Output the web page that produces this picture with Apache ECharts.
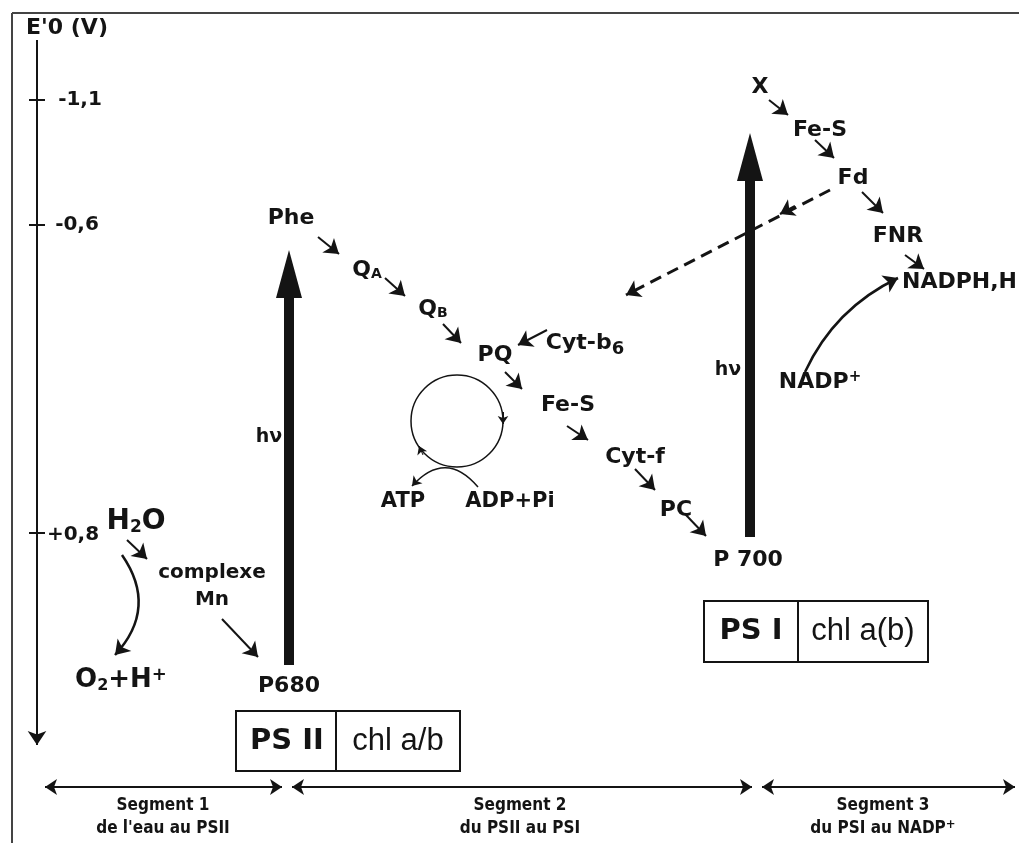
<!DOCTYPE html>
<html>
<head>
<meta charset="utf-8">
<script src="https://cdn.jsdelivr.net/npm/echarts@6/dist/echarts.min.js"></script>
<style>html,body{margin:0;padding:0;background:#fff}</style>
</head>
<body>
<div id="zscheme" style="width:1019px;height:843px"></div>
<script>
// schéma en Z : positions en unités du schéma (axe x 0..1019, axe y 0..843 vers le bas)
var labelText = ["E'0 (V)", '-1,1', '-0,6', '+0,8', 'H{m|2}O', 'complexe', 'Mn', 'O{m|2}+H{sup|+}',
  'P680', 'hν', 'Phe', 'Q{m|A}', 'Q{m|B}', 'PQ', 'Cyt-b{sub|6}', 'Fe-S', 'Cyt-f', 'PC', 'P 700', 'hν',
  'X', 'Fe-S', 'Fd', 'FNR', 'NADPH,H', 'NADP{sup|+}', 'ATP', 'ADP+Pi',
  'PS II', 'chl a/b', 'PS I', 'chl a(b)',
  'Segment 1', "de l'eau au PSII", 'Segment 2', 'du PSII au PSI', 'Segment 3', 'du PSI au NADP{ssup|+}']
var labelX = [67, 80, 77, 73, 136, 212, 212, 121,
  289, 269, 291, 367, 433, 495, 585, 568, 635, 676, 748, 728,
  760, 820, 853, 898, 960, 820, 403, 510,
  287, 398, 751, 863,
  163, 163, 520, 520, 883, 883]
var labelY = [28, 100, 225, 535, 522, 573, 600, 680,
  686, 437, 218, 270, 309, 355, 343, 405, 457, 510, 560, 370,
  87, 130, 178, 236, 282, 382, 502, 502,
  741, 741, 631, 631,
  806, 829, 806, 829, 806, 829]
var labelSize = [22, 20, 20, 20, 28, 20, 20, 26,
  22, 19, 22, 22, 22, 22, 22, 22, 22, 22, 22, 19,
  22, 22, 22, 22, 22, 22, 21, 21,
  29, 31, 29, 31,
  17, 17, 17, 17, 17, 17]
var labelKind = ['b', 'b', 'b', 'b', 'b', 'b', 'b', 'b',
  'b', 'b', 'b', 'b', 'b', 'b', 'b', 'b', 'b', 'b', 'b', 'b',
  'b', 'b', 'b', 'b', 'b', 'b', 'b', 'b',
  'b', 'n', 'b', 'n',
  's', 's', 's', 's', 's', 's']

// graduations de l'axe E'0
var tickY = [100, 225, 533]

// flèches courtes de la chaîne de transfert (départ -> arrivée)
var stepFrom = [[127, 540], [222, 619], [318, 237], [385, 278], [443, 324], [547, 330], [505, 372],
  [567, 426], [635, 469], [686, 515], [769, 100], [815, 140], [862, 192], [905, 255]]
var stepTo = [[147, 559], [258, 657], [339, 254], [405, 296], [461, 343], [518, 345], [522, 389],
  [588, 440], [655, 490], [706, 536], [788, 115], [834, 158], [883, 213], [924, 269]]

// flèches courbes : départ, arrivée, courbure
var curveFrom = [[122, 555], [805, 372], [478, 487]]
var curveTo = [[115, 655], [898, 278], [412, 486]]
var curveBend = [0.4, 0.18, -0.57]

// retour cyclique (pointillés) Fd -> Cyt-b6
var cyclicFrom = [830, 190]
var cyclicTo = [626, 295]

// flèches épaisses hν : x, base, pointe
var lightX = [289, 750]
var lightBase = [665, 537]
var lightTip = [250, 133]

// boîtes photosystèmes : gauche, séparation, droite, haut, bas
var boxLeft = [236, 704]
var boxMid = [336, 798]
var boxRight = [460, 928]
var boxTop = [711, 601]
var boxBottom = [771, 662]

// cycle ATP
var cycleCenter = [457, 421]
var cycleRadius = 46

// segments en bas
var segStart = [45, 292, 762]
var segEnd = [282, 752, 1015]
var segY = 787

var ink = '#141414'
var fonts = {
  b: {fontFamily: 'DejaVu Sans', fontWeight: 'bold'},
  n: {fontFamily: 'Liberation Sans', fontWeight: 'normal'},
  s: {fontFamily: "'DejaVu Sans Condensed', 'Liberation Sans', sans-serif", fontWeight: 'bold'}
}

var chart = echarts.init(document.getElementById('zscheme'))

var labelData = labelText.map(function (t, i) {
  var f = fonts[labelKind[i]]
  var item = {
    value: [labelX[i], labelY[i]],
    label: {
      formatter: t,
      fontSize: labelSize[i],
      fontFamily: f.fontFamily,
      fontWeight: f.fontWeight,
      rich: {
        m: {fontSize: Math.round(labelSize[i] * 0.62), fontFamily: f.fontFamily, fontWeight: f.fontWeight, color: ink, verticalAlign: 'bottom'},
        sub: {fontSize: Math.round(labelSize[i] * 0.8), fontFamily: f.fontFamily, fontWeight: f.fontWeight, color: ink, padding: [12, 0, 0, 0]},
        sup: {fontSize: Math.round(labelSize[i] * 0.7), fontFamily: f.fontFamily, fontWeight: f.fontWeight, color: ink, padding: [0, 0, 10, 0]},
        ssup: {fontSize: 13, fontFamily: f.fontFamily, fontWeight: f.fontWeight, color: ink, padding: [0, 0, 8, 0]}
      }
    }
  }
  if (t === 'NADPH,H') {
    item.label.align = 'left'
    item.value = [902, labelY[i]]
  }
  return item
})

var thinLines = []
thinLines.push({coords: [[12, 843], [12, 13]], lineStyle: {width: 2, color: '#444'}, symbol: ['none', 'none']})
thinLines.push({coords: [[12, 13], [1019, 13]], lineStyle: {width: 2, color: '#444'}, symbol: ['none', 'none']})
thinLines.push({coords: [[37, 40], [37, 745]], lineStyle: {width: 2}, symbol: ['none', 'arrow'], symbolSize: [0, 14]})
tickY.forEach(function (y) {
  thinLines.push({coords: [[29, y], [45, y]], lineStyle: {width: 2}, symbol: ['none', 'none']})
})
stepFrom.forEach(function (p, i) {
  thinLines.push({coords: [p, stepTo[i]], lineStyle: {width: 2}, symbol: ['none', 'arrow'], symbolSize: [0, 14]})
})
curveFrom.forEach(function (p, i) {
  thinLines.push({coords: [p, curveTo[i]], lineStyle: {width: i === 2 ? 1.5 : 2.5, curveness: curveBend[i]}, symbol: ['none', 'arrow'], symbolSize: [0, i === 2 ? 9 : 14]})
})
thinLines.push({coords: [cyclicFrom, cyclicTo], lineStyle: {width: 3, type: [12, 7]}, symbol: ['none', 'arrow'], symbolSize: [0, 14]})
thinLines.push({coords: [[795, 206], [780, 214]], lineStyle: {width: 2}, symbol: ['none', 'arrow'], symbolSize: [0, 14]})
segStart.forEach(function (x, i) {
  thinLines.push({coords: [[x, segY], [segEnd[i], segY]], lineStyle: {width: 2}, symbol: ['arrow', 'arrow'], symbolSize: [12, 12]})
})
// petites pointes sur le cycle
thinLines.push({coords: [[503, 412], [503, 424]], lineStyle: {width: 1}, symbol: ['none', 'arrow'], symbolSize: [0, 8]})
thinLines.push({coords: [[423, 455], [419, 446]], lineStyle: {width: 1}, symbol: ['none', 'arrow'], symbolSize: [0, 8]})

var option = {
  animation: false,
  backgroundColor: '#fff',
  grid: {left: 0, right: 0, top: 0, bottom: 0},
  xAxis: {type: 'value', min: 0, max: 1019, show: false},
  yAxis: {type: 'value', min: 0, max: 843, inverse: true, show: false},
  series: [
    {
      type: 'custom',
      coordinateSystem: 'cartesian2d',
      data: boxLeft.map(function (x, i) { return [x, boxMid[i], boxRight[i], boxTop[i], boxBottom[i]] }),
      renderItem: function (params, api) {
        var a = api.coord([api.value(0), api.value(3)])
        var b = api.coord([api.value(2), api.value(4)])
        var m = api.coord([api.value(1), api.value(4)])
        return {
          type: 'group',
          children: [
            {type: 'rect', shape: {x: a[0], y: a[1], width: b[0] - a[0], height: b[1] - a[1]}, style: {fill: '#fff', stroke: ink, lineWidth: 2}},
            {type: 'line', shape: {x1: m[0], y1: a[1], x2: m[0], y2: b[1]}, style: {stroke: ink, lineWidth: 2}}
          ]
        }
      }
    },
    {
      type: 'custom',
      coordinateSystem: 'cartesian2d',
      data: [[cycleCenter[0], cycleCenter[1], cycleRadius]],
      renderItem: function (params, api) {
        var c = api.coord([api.value(0), api.value(1)])
        var r = api.size([api.value(2), 0])[0]
        return {type: 'circle', shape: {cx: c[0], cy: c[1], r: r}, style: {fill: 'none', stroke: ink, lineWidth: 1.5}}
      }
    },
    {
      type: 'lines',
      coordinateSystem: 'cartesian2d',
      lineStyle: {color: ink, opacity: 1},
      z: 3,
      data: thinLines
    },
    {
      type: 'custom',
      coordinateSystem: 'cartesian2d',
      z: 4,
      data: lightX.map(function (x, i) { return [x, lightBase[i], lightTip[i]] }),
      renderItem: function (params, api) {
        var base = api.coord([api.value(0), api.value(1)])
        var tip = api.coord([api.value(0), api.value(2)])
        var headH = 48, headW = 13, shaftW = 5
        return {
          type: 'group',
          children: [
            {type: 'rect', shape: {x: base[0] - shaftW, y: tip[1] + headH - 4, width: shaftW * 2, height: base[1] - tip[1] - headH + 4}, style: {fill: ink}},
            {type: 'polygon', shape: {points: [[tip[0], tip[1]], [tip[0] + headW, tip[1] + headH], [tip[0] - headW, tip[1] + headH]]}, style: {fill: ink}}
          ]
        }
      }
    },
    {
      type: 'scatter',
      symbolSize: 0,
      z: 5,
      itemStyle: {opacity: 1},
      label: {show: true, position: 'inside', color: ink},
      data: labelData
    }
  ]
}

chart.setOption(option)
</script>
</body>
</html>
